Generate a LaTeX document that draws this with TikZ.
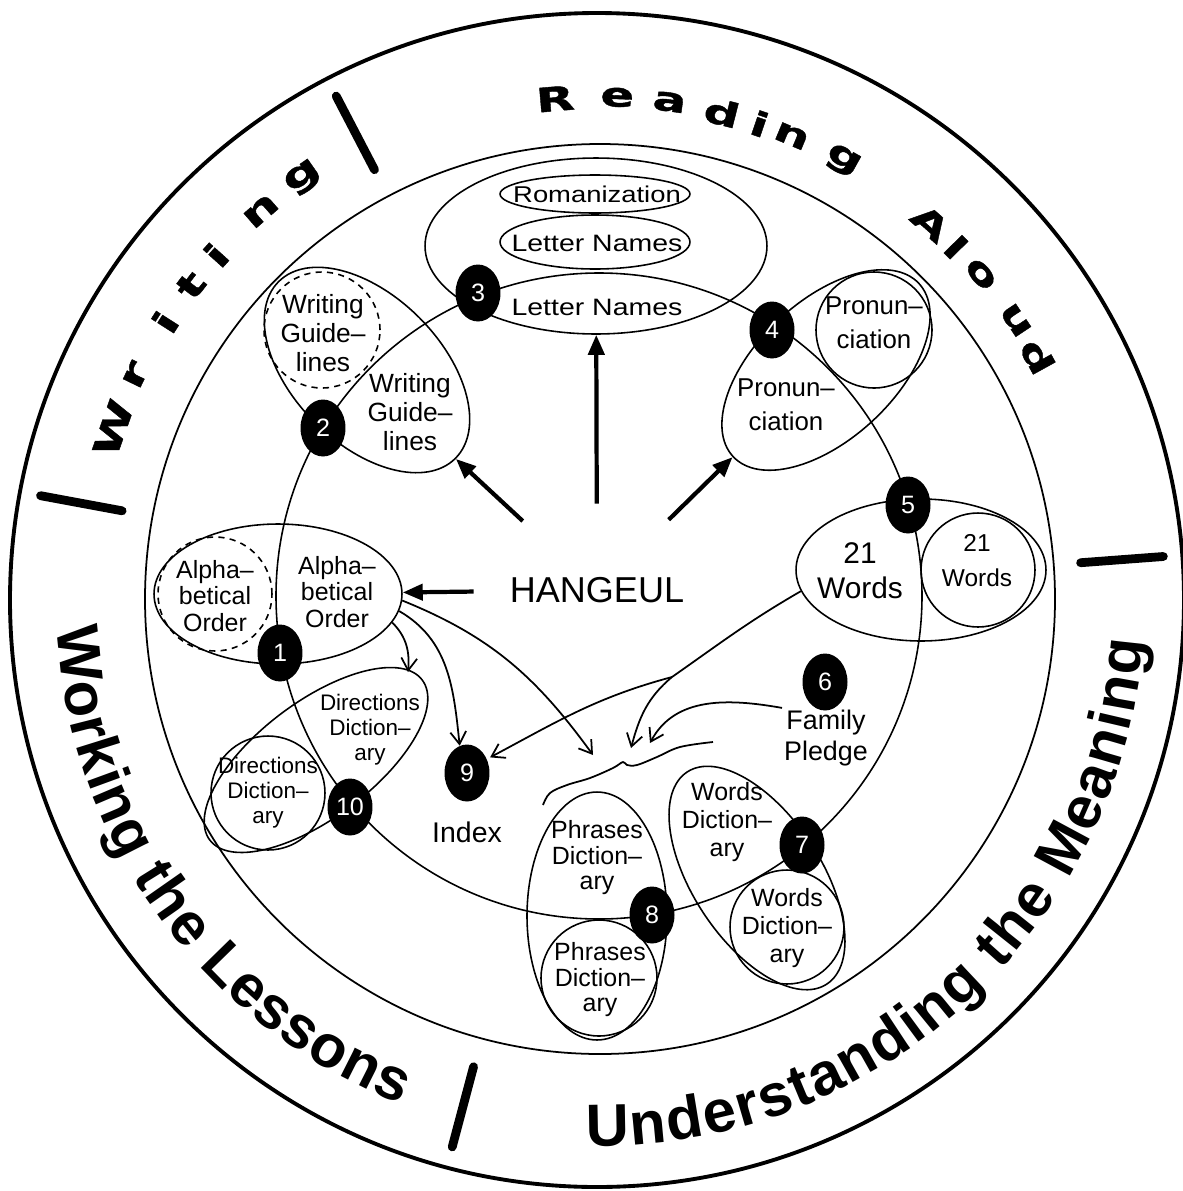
\documentclass[tikz,border=0pt]{standalone}
\usepackage{fontspec}
\setmainfont{Liberation Sans}
\newfontfamily\ringfont{DejaVu Sans}[FakeStretch=1.5, FakeBold=1.2]
\newfontfamily\widefont{Liberation Sans}[FakeStretch=1.2]
\newcommand\bigring{\bfseries\fontsize{34}{40}\selectfont}
\usetikzlibrary{shapes.geometric, arrows.meta, decorations.text}

\tikzset{
    lbl/.style 2 args={align=center, inner sep=1pt, font=\fontsize{#1}{#2}\selectfont},
    blob/.style={ellipse, draw, line width=0.9pt, inner sep=0pt},
    dashpat/.style={dash pattern=on 3.5pt off 3pt},
    num/.style={ellipse, fill=black, text=white, inner sep=0pt,
        minimum width=0.9cm, minimum height=1.14cm, font=\fontsize{14.3}{15}\selectfont},
    fatarrow/.style={line width=2.4pt, -{Triangle[length=0.4cm, width=0.32cm]}},
    thinarrow/.style={line width=1pt, -{Straight Barb[length=7pt, width=9pt]}},
    ringbar/.style={line width=5pt, line cap=round},
    ringletter/.style={inner sep=0pt, font=\ringfont\bfseries\fontsize{19}{19}\selectfont},
}

\begin{document}
\begin{tikzpicture}[x=0.02cm, y=0.02cm]
    \useasboundingbox (0,0) rectangle (1183,-1191);

    % Circles
    \draw[line width=2.2pt] (597,-600) circle [radius=587];
    \draw[line width=1pt] (600,-599) circle [radius=455];
    \draw[line width=0.9pt] (599,-596) circle [radius=323];

    % Ring labels
    \begin{scope}[shift={(598,-599)}]
        \foreach \ang in {4.3,117.5,169.5,255.1} {
            \draw[ringbar] (\ang:484) -- (\ang:567);
        }
        \foreach \ch/\ang [count=\i] in {W/160.6,r/154.2,i/147.4,t/142.4,i/138,n/131,g/125} {
            \node[ringletter, font=\ringfont\bfseries\fontsize{20}{20}\selectfont, rotate=\ang-90] (wr\i) at (\ang:514) {\ch};
        }
        \foreach \ch/\ang [count=\i] in {R/94.9,e/87.8,a/81.8,d/75.7,i/71.2,n/67.3,g/60.8,A/48.5,l/44.5,o/40.3,u/33.7,d/28.9} {
            \node[ringletter, rotate=\ang-90] (rd\i) at (\ang:502) {\ch};
        }
        \path[decorate, decoration={text along path, text align={fit to path},
                text={|\bigring|Working the Lessons}}]
            (183:542) arc [start angle=183, end angle=248.7, radius=542];
        \path[decorate, decoration={text along path, text align={fit to path},
                text={|\bigring|Understanding the Meaning}}]
            (268.8:547) arc [start angle=268.8, end angle=355.6, radius=547];
    \end{scope}

    % Letter names
    \node[blob, minimum width=6.84cm, minimum height=3.52cm] (namesE) at (596,-246) {};
    \node[blob, minimum width=3.8cm, minimum height=0.76cm] (romE) at (595,-194) {};
    \node[blob, minimum width=3.8cm, minimum height=1.08cm] (lnE) at (595,-242) {};
    \node[lbl={13}{14}] (rom) at (597,-194) {\widefont Romanization};
    \node[lbl={13.5}{14}] (ln1) at (597,-243) {\widefont Letter Names};
    \node[lbl={13.5}{14}] (ln2) at (597,-307) {\widefont Letter Names};

    % Writing guidelines
    \node[blob, minimum width=5cm, minimum height=2.96cm, rotate=-45] (guideE) at (367,-370) {};
    \node[blob, dashpat, minimum size=2.32cm] (guideC) at (322,-330) {};
    \node[lbl={15}{16.3}] (guide1) at (323,-333) {Writing\\Guide–\\lines};
    \node[lbl={15}{16.3}] (guide2) at (410,-412) {Writing\\Guide–\\lines};

    % Alphabetical order
    \node[blob, minimum width=4.96cm, minimum height=2.8cm] (alphaE) at (278,-594) {};
    \node[blob, dashpat, minimum size=2.28cm] (alphaC) at (215,-594) {};
    \node[lbl={14.2}{14.9}] (alpha1) at (215,-596) {Alpha–\\betical\\Order};
    \node[lbl={14.2}{14.9}] (alpha2) at (337,-592) {Alpha–\\betical\\Order};

    % Directions dictionary
    \node[blob, minimum width=5.32cm, minimum height=2.32cm, rotate=37] (dirE) at (316,-760) {};
    \node[blob, minimum size=2.28cm] (dirC) at (268,-793) {};
    \node[lbl={12.8}{14.2}] (dir1) at (268,-793) {Directions\\Diction–\\ary};
    \node[lbl={12.8}{14.2}] (dir2) at (370,-730) {Directions\\Diction–\\ary};

    % Pronunciation
    \node[blob, minimum width=5.08cm, minimum height=2.76cm, rotate=43] (pronE) at (826,-370) {};
    \node[blob, minimum size=2.32cm] (pronC) at (874,-330) {};
    \node[lbl={14.7}{19.3}] (pron1) at (786,-405) {Pronun–\\ciation};
    \node[lbl={14.7}{19.3}] (pron2) at (874,-323) {Pronun–\\ciation};

    % 21 words
    \node[blob, minimum width=5cm, minimum height=2.84cm] (wordsE) at (921,-570) {};
    \node[blob, minimum size=2.28cm] (wordsC) at (978,-570) {};
    \node[lbl={17}{20}] (words1) at (860,-571) {21\\Words};
    \node[lbl={13.9}{20}] (words2) at (977,-561) {21\\Words};

    % Words dictionary
    \node[blob, minimum width=5.08cm, minimum height=2.56cm, rotate=-56.6] (dictE) at (757,-878) {};
    \node[blob, minimum size=2.28cm] (dictC) at (787,-927) {};
    \node[lbl={14.2}{15.9}] (dict1) at (727,-822) {Words\\Diction–\\ary};
    \node[lbl={14.2}{15.9}] (dict2) at (787,-928) {Words\\Diction–\\ary};

    % Phrases dictionary
    \node[blob, minimum width=2.8cm, minimum height=4.96cm] (phrE) at (597,-916) {};
    \node[blob, minimum size=2.32cm] (phrC) at (599,-978) {};
    \node[lbl={14.2}{14.5}] (phr1) at (597,-858) {Phrases\\Diction–\\ary};
    \node[lbl={14.2}{14.5}] (phr2) at (600,-980) {Phrases\\Diction–\\ary};

    % Family pledge, index, hangeul
    \node[lbl={15.3}{17.6}] (pledge) at (826,-738) {Family\\Pledge};
    \node[lbl={16.2}{18}] (index) at (467,-832) {Index};
    \node[ellipse, minimum width=4cm, minimum height=3.44cm, inner sep=0pt,
        font=\fontsize{20.5}{22}\selectfont] (hangeul) at (597,-590) {HANGEUL};

    % Numbers
    \foreach \n/\x/\y in {1/280/653, 2/323/428, 3/478/293, 4/772/330, 5/908/505,
                          6/825/682, 7/802/845, 8/652/915, 9/467/773, 10/350/807} {
        \node[num] (n\n) at (\x,-\y) {\n};
    }

    % Arrows from HANGEUL
    \draw[fatarrow] (hangeul) -- (namesE);
    \draw[fatarrow] (hangeul) -- (guideE.east);
    \draw[fatarrow] (hangeul) -- (pronE.west);
    \draw[fatarrow] (hangeul) -- (alphaE);

    % Wavy line and curved arrows
    \coordinate (tipDir) at (408,-672);
    \coordinate (tipA) at (593,-755);
    \coordinate (tipW) at (631,-748);
    \coordinate (tipF) at (650,-743);
    \coordinate (split) at (672,-677);
    \draw[line width=1pt] plot[smooth, tension=0.6] coordinates {(543,-805) (550,-793) (567,-785)
        (590,-778) (613,-768) (623,-762) (627,-765) (637,-765) (657,-757) (680,-747) (713,-742)};
    \draw[thinarrow] (alphaE.-14) to[out=-45, in=85] (tipDir);
    \draw[thinarrow] (alphaE.-8) to[out=-30, in=96] (n9.105);
    \draw[thinarrow] (alphaE.-3) to[out=-22, in=126] (tipA);
    \draw[thinarrow] (wordsE.190) to[out=-150, in=35] (split) to[out=-140, in=75] (tipW);
    \draw[thinarrow, shorten >=2pt] (split) to[out=195, in=28] (n9.35);
    \draw[thinarrow] (pledge.north west) to[out=170, in=62] (tipF);
\end{tikzpicture}
\end{document}
